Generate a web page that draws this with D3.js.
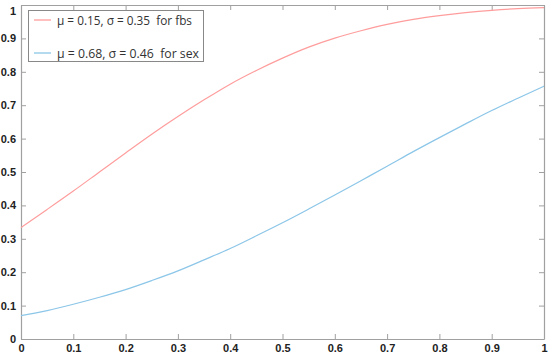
<!DOCTYPE html>
<html><head><meta charset="utf-8">
<script src="https://cdn.jsdelivr.net/npm/d3@7"></script>
<style>body{margin:0;background:#fff}svg{display:block}</style>
</head><body><svg id="c" width="550" height="358"></svg>
<script>
const xValues = [0,0.05,0.1,0.15,0.2,0.25,0.3,0.35,0.4,0.45,0.5,0.55,0.6,0.65,0.7,0.75,0.8,0.85,0.9,0.95,1];
const fbsValues = [0.334,0.388,0.443,0.5,0.557,0.613,0.666,0.716,0.763,0.804,0.841,0.874,0.901,0.923,0.942,0.957,0.968,0.977,0.984,0.989,0.992];
const sexValues = [0.070,0.085,0.104,0.125,0.148,0.175,0.204,0.237,0.271,0.309,0.348,0.389,0.431,0.474,0.517,0.561,0.603,0.644,0.684,0.721,0.757];
const seriesNames = ["μ = 0.15, σ = 0.35  for fbs","μ = 0.68, σ = 0.46  for sex"];
const seriesColors = ["#ff9d9d","#8cc6e8"];
const xTicks = [0,0.1,0.2,0.3,0.4,0.5,0.6,0.7,0.8,0.9,1];
const yTicks = [0,0.1,0.2,0.3,0.4,0.5,0.6,0.7,0.8,0.9,1];

const svg = d3.select("#c");
const L=21,R=544,T=5,B=339;
const x = d3.scaleLinear().domain([0,1]).range([L,R]);
const y = d3.scaleLinear().domain([0,1]).range([B,T]);
const fmt = d => d===0?"0":d===1?"1":d3.format(".1f")(d);
const axCol="#a0a0a0";

function styleAxis(g){
  g.select(".domain").attr("stroke",axCol).attr("stroke-width",1.2);
  g.selectAll(".tick line").attr("stroke",axCol).attr("stroke-width",1);
  g.selectAll("text").attr("font-family","Liberation Sans, Arial, sans-serif").attr("font-weight","bold").attr("font-size","11px").attr("fill","#222");
}
const gx = svg.append("g").attr("transform",`translate(0,${B})`)
  .call(d3.axisBottom(x).tickValues(xTicks).tickFormat(fmt).tickSizeInner(-5).tickSizeOuter(0).tickPadding(5));
styleAxis(gx);
const gy = svg.append("g").attr("transform",`translate(${L},0)`)
  .call(d3.axisLeft(y).tickValues(yTicks).tickFormat(fmt).tickSizeInner(-5).tickSizeOuter(0).tickPadding(5));
styleAxis(gy);
gy.selectAll(".tick").filter(d=>d===1).select("text").attr("dy","0.85em");
const gt = svg.append("g").attr("transform",`translate(0,${T})`)
  .call(d3.axisTop(x).tickValues(xTicks).tickFormat("").tickSizeInner(-5).tickSizeOuter(0));
styleAxis(gt);
const gr = svg.append("g").attr("transform",`translate(${R},0)`)
  .call(d3.axisRight(y).tickValues(yTicks).tickFormat("").tickSizeInner(-5).tickSizeOuter(0));
styleAxis(gr);

const line = d3.line().curve(d3.curveMonotoneX);
[fbsValues,sexValues].forEach((vals,i)=>{
  svg.append("path").attr("fill","none").attr("stroke",seriesColors[i]).attr("stroke-width",1.2)
    .attr("d",line(xValues.map((xv,j)=>[x(xv),y(vals[j])])));
});

// legend
const lg = svg.append("g");
lg.append("rect").attr("x",28.5).attr("y",10.5).attr("width",175).attr("height",51)
  .attr("fill","#fff").attr("stroke","#888").attr("stroke-width",1);
const textLens = [135,142];
seriesNames.forEach((n,i)=>{
  const yy = 20 + i*33;
  lg.append("line").attr("x1",34).attr("x2",51).attr("y1",yy).attr("y2",yy).attr("stroke",seriesColors[i]).attr("stroke-width",1.3);
  lg.append("text").attr("x",57).attr("y",yy).attr("dy","0.35em")
    .style("white-space","pre")
    .attr("textLength",textLens[i]).attr("lengthAdjust","spacingAndGlyphs")
    .attr("font-family","Open Sans, Noto Sans, sans-serif").attr("font-size","13px").attr("fill","#333").text(n);
});
</script></body></html>
